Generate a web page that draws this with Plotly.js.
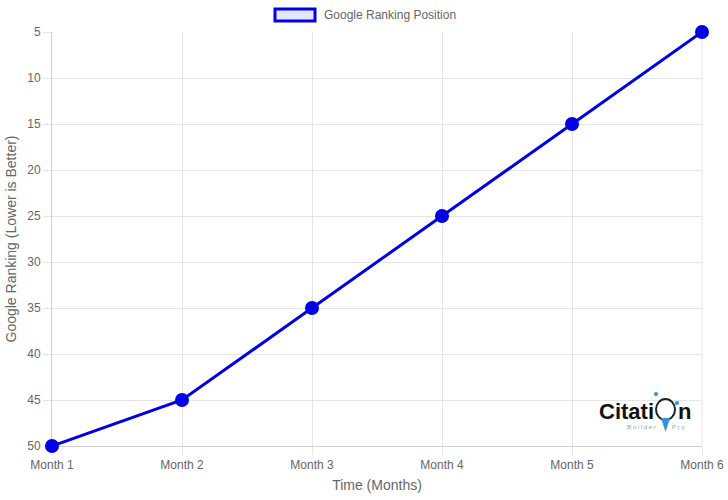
<!DOCTYPE html>
<html>
<head>
<meta charset="utf-8">
<script src="https://cdn.plot.ly/plotly-3.0.1.min.js"></script>
<style>html,body{margin:0;padding:0;background:#fff;}#chart{width:728px;height:500px;}</style>
</head>
<body>
<div id="chart"></div>
<script>
const months = ["Month 1", "Month 2", "Month 3", "Month 4", "Month 5", "Month 6"];
const rankings = [50, 45, 35, 25, 15, 5];
const yTicks = [5, 10, 15, 20, 25, 30, 35, 40, 45, 50];
const seriesName = "Google Ranking Position";

const blue = "#0000e6";
const grid = "#e5e5e5";
const txt = "#666666";

const trace = {
  x: months,
  y: rankings,
  type: "scatter",
  mode: "lines+markers",
  name: seriesName,
  line: {color: blue, width: 3},
  marker: {color: blue, size: 14},
  cliponaxis: false,
  showlegend: false
};

const layout = {
  width: 728, height: 500,
  margin: {l: 52, r: 26, t: 32, b: 54},
  paper_bgcolor: "#fff", plot_bgcolor: "#fff",
  font: {family: "Liberation Sans, Arial, sans-serif", size: 12, color: txt},
  xaxis: {
    type: "category",
    range: [0, 5],
    layer: "below traces",
    showgrid: true, gridcolor: grid, gridwidth: 1,
    showline: true, linecolor: "#d0d0d0", linewidth: 1,
    ticks: "outside", ticklen: 8, tickcolor: grid,
    tickfont: {size: 12, color: txt},
    title: {text: "Time (Months)", font: {size: 14, color: txt}, standoff: 8},
    zeroline: false, mirror: false
  },
  yaxis: {
    range: [50, 5],
    tickvals: yTicks,
    layer: "below traces",
    showgrid: true, gridcolor: grid, gridwidth: 1,
    showline: true, linecolor: "#d0d0d0", linewidth: 1,
    ticks: "outside", ticklen: 8, tickcolor: grid,
    tickfont: {size: 12, color: txt},
    title: {text: "Google Ranking (Lower is Better)", font: {size: 14, color: txt}, standoff: 7},
    zeroline: false
  },
  shapes: [
    {type: "rect", xref: "paper", yref: "paper",
     x0: (275 - 52) / 650, x1: (315 - 52) / 650,
     y0: (500 - 54 - 21) / 414, y1: (500 - 54 - 9) / 414,
     fillcolor: "rgba(0,0,255,0.1)", line: {color: blue, width: 3}},
    {type: "line", xref: "paper", yref: "paper", layer: "below",
     x0: 1, x1: 1, y0: 0, y1: 1, line: {color: grid, width: 1}},
    // logo O ring
    {type: "circle", xref: "paper", yref: "paper",
     x0: (656 - 52) / 650, x1: (675 - 52) / 650,
     y0: (446 - 420) / 414, y1: (446 - 399) / 414,
     line: {color: "#222", width: 2}, fillcolor: "rgba(0,0,0,0)"},
    {type: "path", xref: "paper", yref: "paper",
     path: "M " + ((661 - 52) / 650) + "," + ((446 - 418) / 414) + " L " + ((665.5 - 52) / 650) + "," + ((446 - 432) / 414) + " L " + ((670 - 52) / 650) + "," + ((446 - 418) / 414) + " Z",
     fillcolor: "#2f8fe0", line: {width: 0}},
    {type: "circle", xref: "paper", yref: "paper",
     x0: (654 - 52) / 650, x1: (658 - 52) / 650,
     y0: (446 - 396) / 414, y1: (446 - 392) / 414,
     fillcolor: "#2f8fe0", line: {width: 0}},
    {type: "circle", xref: "paper", yref: "paper",
     x0: (675 - 52) / 650, x1: (679 - 52) / 650,
     y0: (446 - 405) / 414, y1: (446 - 401) / 414,
     fillcolor: "#2f8fe0", line: {width: 0}}
  ],
  annotations: [
    {text: seriesName, xref: "paper", yref: "paper",
     x: (322 - 52) / 650, y: (446 - 15) / 414, xanchor: "left", yanchor: "middle",
     showarrow: false, font: {size: 12, color: txt}},
    {text: "<b>Citati</b>", xref: "paper", yref: "paper",
     x: (656 - 52) / 650, y: (446 - 411) / 414, xanchor: "right", yanchor: "middle",
     showarrow: false, font: {size: 22, color: "#111", family: "Liberation Sans, Arial, sans-serif"}},
    {text: "<b>n</b>", xref: "paper", yref: "paper",
     x: (676 - 52) / 650, y: (446 - 411) / 414, xanchor: "left", yanchor: "middle",
     showarrow: false, font: {size: 22, color: "#111", family: "Liberation Sans, Arial, sans-serif"}},
    {text: "B u i l d e r", xref: "paper", yref: "paper",
     x: (658 - 52) / 650, y: (446 - 427) / 414, xanchor: "right", yanchor: "middle",
     showarrow: false, font: {size: 6, color: "#8aa0c0"}},
    {text: "P r o", xref: "paper", yref: "paper",
     x: (670 - 52) / 650, y: (446 - 427) / 414, xanchor: "left", yanchor: "middle",
     showarrow: false, font: {size: 6, color: "#8aa0c0"}}
  ],
  showlegend: false
};

Plotly.newPlot("chart", [trace], layout, {displayModeBar: false, staticPlot: true});
</script>
</body>
</html>
